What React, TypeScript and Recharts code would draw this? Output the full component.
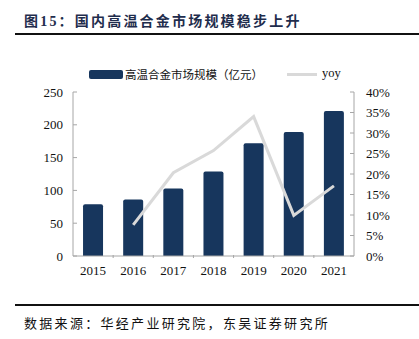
import { ComposedChart, Bar, Line, XAxis, YAxis, Legend } from 'recharts';

const years = ['2015', '2016', '2017', '2018', '2019', '2020', '2021'];
const marketSize = [79, 86, 103, 129, 172, 189, 221];
const yoy = [null, 7.6, 20.3, 25.7, 34.0, 9.9, 17.1];
const leftTicks = [0, 50, 100, 150, 200, 250];
const rightTicks = [0, 5, 10, 15, 20, 25, 30, 35, 40];

const BAR_COLOR = '#17365D';
const LINE_COLOR = '#D9D9D9';
const AXIS_COLOR = '#A6A6A6';
const FONT = '"Liberation Serif", "Noto Sans CJK SC", serif';

const data = years.map((year, i) => ({ year, size: marketSize[i], yoy: yoy[i] }));

// tick labels plus short tick marks that point into the plot
const LeftTick = ({ x, y, payload }: any) => (
  <g>
    <line x1={x + 10} x2={x + 14} y1={y} y2={y} stroke={AXIS_COLOR} />
    <text x={x} y={y} dy={4.5} textAnchor="end" fontSize={13} fill="#111" fontFamily={FONT}>
      {payload.value}
    </text>
  </g>
);

const RightTick = ({ x, y, payload }: any) => (
  <g>
    <line x1={x - 12} x2={x - 16} y1={y} y2={y} stroke={AXIS_COLOR} />
    <text x={x} y={y} dy={4.5} textAnchor="start" fontSize={13} fill="#111" fontFamily={FONT}>
      {payload.value}%
    </text>
  </g>
);

const BAND = 281 / 7;
const BottomTick = ({ x, y, payload, index }: any) => (
  <g>
    {index > 0 && <line x1={x - BAND / 2} x2={x - BAND / 2} y1={y - 12} y2={y - 15} stroke={AXIS_COLOR} />}
    <text x={x} y={y} dy={4.5} textAnchor="middle" fontSize={13} fill="#111" fontFamily={FONT}>
      {payload.value}
    </text>
  </g>
);

const LegendContent = () => (
  <div style={{ position: 'relative', height: 16, fontFamily: FONT, fontSize: 11.5, color: '#111' }}>
    <div style={{ position: 'absolute', left: 89, top: 4, width: 34, height: 9, background: BAR_COLOR, borderRadius: 2 }} />
    <span style={{ position: 'absolute', left: 125, top: 0, whiteSpace: 'nowrap' }}>高温合金市场规模（亿元）</span>
    <div style={{ position: 'absolute', left: 287, top: 7, width: 30, height: 3, background: LINE_COLOR }} />
    <span style={{ position: 'absolute', left: 322, top: 0, fontSize: 12.5, lineHeight: '15px' }}>yoy</span>
  </div>
);

export default function App() {
  return (
    <div style={{ position: 'absolute', left: 0, top: 0, width: 419, height: 339, background: '#fff', fontFamily: FONT }}>
      <div style={{ position: 'absolute', left: 24, top: 10, fontSize: 14, fontWeight: 'bold', color: '#1F2D4D', letterSpacing: 2.2, whiteSpace: 'nowrap' }}>
        图15：国内高温合金市场规模稳步上升
      </div>
      <div style={{ position: 'absolute', left: 15, right: 0, top: 33, height: 2, background: '#111' }} />

      <div style={{ position: 'absolute', left: 0, top: 0 }}>
        <ComposedChart width={419} height={339} data={data} margin={{ top: 76, right: 20, left: 20, bottom: 58 }} barCategoryGap="25%">
          <Legend verticalAlign="top" height={16} content={<LegendContent />} wrapperStyle={{ top: 66, left: 0, width: 419 }} />
          <XAxis
            dataKey="year"
            height={25}
            stroke={AXIS_COLOR}
            tickLine={false}
            tickSize={0}
            tickMargin={14}
            tick={<BottomTick />}
            interval={0}
          />
          <YAxis
            yAxisId="left"
            width={53}
            domain={[0, 250]}
            ticks={leftTicks}
            stroke={AXIS_COLOR}
            tickLine={false}
            tickSize={0}
            tickMargin={10}
            tick={<LeftTick />}
            interval={0}
          />
          <YAxis
            yAxisId="right"
            orientation="right"
            width={45}
            domain={[0, 40]}
            ticks={rightTicks}
            stroke={AXIS_COLOR}
            tickLine={false}
            tickSize={0}
            tickMargin={12}
            tick={<RightTick />}
            interval={0}
          />
          <Bar yAxisId="left" dataKey="size" fill={BAR_COLOR} radius={[2, 2, 0, 0]} isAnimationActive={false} />
          <Line
            yAxisId="right"
            dataKey="yoy"
            stroke={LINE_COLOR}
            strokeWidth={3}
            dot={false}
            connectNulls={false}
            isAnimationActive={false}
          />
        </ComposedChart>
      </div>

      <div style={{ position: 'absolute', left: 15, right: 0, top: 304, height: 1.5, background: '#111' }} />
      <div style={{ position: 'absolute', left: 24, top: 313, fontSize: 13, color: '#111', letterSpacing: 2.3, whiteSpace: 'nowrap' }}>
        数据来源：华经产业研究院，东吴证券研究所
      </div>
    </div>
  );
}
